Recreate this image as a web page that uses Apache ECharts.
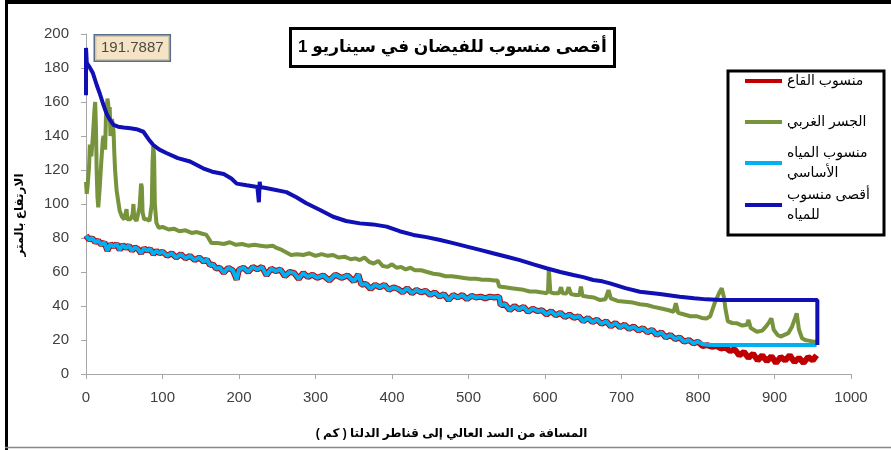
<!DOCTYPE html>
<html>
<head>
<meta charset="utf-8">
<script src="https://cdn.jsdelivr.net/npm/echarts/dist/echarts.min.js"></script>
<style>
html, body { margin: 0; padding: 0; background: #fff; overflow: hidden; }
#main { width: 891px; height: 450px; }
</style>
</head>
<body>
<div id="main" dir="rtl"></div>
<script>
// series names (legend order)
var seriesNames = ["منسوب القاع", "الجسر الغربي", "منسوب المياه الأساسي", "أقصى منسوب للمياه"];
var legendText = ["منسوب القاع", "الجسر الغربي", "منسوب المياه\nالأساسي", "أقصى منسوب\nللمياه"];

// [km, level m]
var bedLevel = [
  [0,81.5],[4,79],[8,80],[12,77.5],[16,78.5],[20,76],[24,77.5],[28,72.5],[32,76.5],[36,75],[40,76.5],[44,73],
  [48,76],[52,74],[56,75.5],[60,72.5],[64,74.5],[68,73.5],[72,71],[76,74],[80,72.5],[84,73.5],[88,70.5],[92,72.5],
  [96,71],[100,72],[106,69.5],[112,71],[118,68.5],[124,70.5],[130,68],[136,69.5],[142,67],[148,68.5],[154,66],
  [158,67.5],[162,64],[166,64.5],[170,62],[175,62.5],[180,59.5],[186,62.5],[192,61],[197,55.5],[200,61.5],
  [206,62.5],[212,60],[218,63],[224,61.5],[230,63],[236,58],[242,62],[248,60.5],[254,61.5],[260,57.5],[266,60],
  [272,59.5],[278,56],[284,59.5],[290,57],[296,58.5],[302,56.5],[310,58],[318,55],[326,58.5],[334,56.5],[342,58],
  [350,54.5],[356,58.5],[360,52.5],[366,53],[372,50],[378,52.5],[384,51],[390,52.5],[396,49.5],[402,51],[408,50],
  [414,48],[420,50.5],[426,47.5],[432,49.5],[438,48],[444,49],[450,46.5],[456,48],[462,45.5],[468,47],[474,43.5],
  [480,46.5],[486,45],[492,46.5],[498,44],[504,46],[510,45],[516,45.5],[522,44.5],[528,45.5],[534,45],[540,45.5],
  [542,40.5],[548,41],[554,37.5],[560,40],[566,38],[572,39.5],[578,36.5],[584,38.5],[590,37],[596,37.5],[602,35],
  [608,37],[614,34.5],[620,36],[626,33.5],[632,35],[638,33],[644,34],[650,31],[656,33],[662,30.5],[668,32],
  [674,29.5],[680,31],[686,28],[692,30],[698,27.5],[704,29],[710,26.5],[716,28],[722,25.5],[728,27],[734,24.5],
  [740,26],[746,23],[752,24.5],[758,21.5],[764,23],[770,20.5],[776,21.5],[782,19],[788,20],[794,18],[800,19],
  [806,16.5],[812,17],[818,16],[824,16.5],[830,15],[836,15.5],[842,13.5],[848,14.5],[854,11],[860,13],[866,9.5],
  [872,12],[878,8],[884,11],[890,7.5],[896,10.5],[902,6.5],[908,10],[914,8],[920,11],[926,7],[932,9.5],[938,6.5],
  [944,10],[950,8],[955,11]
];

var westBank = [
  [0,113],[1,106],[2,110],[4,122],[5,135],[7,128],[9,140],[11,155],[12,160],[13,145],[14,118],[15,104],[16,98],
  [18,110],[20,125],[22,138],[23,140],[25,132],[26,150],[28,162],[29,159],[30,150],[31,157],[32,140],[34,150],
  [36,143],[37,130],[38,120],[40,108],[42,102],[44,96],[47,92.5],[50,91],[52,95],[53,97],[54,91],[56,90],[58,91],
  [61,94],[62,100],[63,92],[66,90],[68,91],[70,98],[72,112],[73,110],[74,95],[76,91],[80,91],[83,90],[86,100],
  [87,125],[88,134],[89,128],[90,100],[92,89],[95,86],[100,86.5],[108,85],[115,85.5],[122,84],[130,84.5],[138,83],
  [145,83.5],[152,82.5],[157,82],[160,80],[164,77],[172,77],[180,76.5],[188,77.5],[196,76],[204,76.5],[212,75.5],
  [220,76],[228,75.5],[236,75],[244,75.5],[250,74],[256,73],[262,71.5],[268,70],[276,70.5],[284,70],[292,71],
  [300,69.5],[308,70.5],[316,69.5],[323,70],[330,68.5],[338,69],[346,67.5],[352,68],[358,67],[364,68.5],[370,66],
  [376,65],[382,66.5],[388,63.5],[394,63],[400,64.5],[406,62.5],[412,63],[418,61.5],[424,62.5],[430,61],[438,61],
  [446,60],[454,59],[462,58.5],[470,57.5],[478,57.5],[486,57],[494,56.5],[502,56],[510,56],[518,55.5],[526,55.5],
  [534,55],[538,55],[540,51.5],[548,51],[556,50.5],[564,50],[572,49.5],[580,48.5],[588,48.5],[596,48],[602,47.5],
  [604,49],[605,62],[606,63],[607,48],[612,47.5],[618,47.5],[621,51],[623,47.5],[628,47.4],[631,51],[634,47],
  [640,46.5],[645,46.5],[647,51.4],[649,46],[656,45.5],[664,45],[672,43.5],[679,44],[683,49.4],[686,44.5],
  [695,43],[705,42.5],[715,42],[724,41],[733,40.6],[742,39.5],[752,38.5],[762,37.5],[768,36.5],[771,41.6],
  [774,36],[782,35],[790,34],[798,34],[805,33],[811,32.7],[816,34],[819,38],[822,42],[825,45],[828,48],[831,50.4],
  [834,45],[836,38],[839,31],[845,30],[851,29.8],[858,28.5],[864,29],[866,31.8],[869,27],[877,24.9],[884,25.5],
  [889,28],[893,30.5],[896,32.7],[899,26],[904,23],[908,22],[913,23],[918,24],[923,28],[927,33],[929,35.7],
  [932,26],[936,21],[940,20],[946,19.5],[951,19],[955,19]
];

var baseWater = [
  [0,81.5],[4,79],[8,80],[12,77.5],[16,78.5],[20,76],[24,77.5],[28,72.5],[32,76.5],[36,75],[40,76.5],[44,73],
  [48,76],[52,74],[56,75.5],[60,72.5],[64,74.5],[68,73.5],[72,71],[76,74],[80,72.5],[84,73.5],[88,70.5],[92,72.5],
  [96,71],[100,72],[106,69.5],[112,71],[118,68.5],[124,70.5],[130,68],[136,69.5],[142,67],[148,68.5],[154,66],
  [158,67.5],[162,64],[166,64.5],[170,62],[175,62.5],[180,59.5],[186,62.5],[192,61],[197,55.5],[200,61.5],
  [206,62.5],[212,60],[218,63],[224,61.5],[230,63],[236,58],[242,62],[248,60.5],[254,61.5],[260,57.5],[266,60],
  [272,59.5],[278,56],[284,59.5],[290,57],[296,58.5],[302,56.5],[310,58],[318,55],[326,58.5],[334,56.5],[342,58],
  [350,54.5],[356,58.5],[360,52.5],[366,53],[372,50],[378,52.5],[384,51],[390,52.5],[396,49.5],[402,51],[408,50],
  [414,48],[420,50.5],[426,47.5],[432,49.5],[438,48],[444,49],[450,46.5],[456,48],[462,45.5],[468,47],[474,43.5],
  [480,46.5],[486,45],[492,46.5],[498,44],[504,46],[510,45],[516,45.5],[522,44.5],[528,45.5],[534,45],[540,45.5],
  [542,40.5],[548,41],[554,37.5],[560,40],[566,38],[572,39.5],[578,36.5],[584,38.5],[590,37],[596,37.5],[602,35],
  [608,37],[614,34.5],[620,36],[626,33.5],[632,35],[638,33],[644,34],[650,31],[656,33],[662,30.5],[668,32],
  [674,29.5],[680,31],[686,28],[692,30],[698,27.5],[704,29],[710,26.5],[716,28],[722,25.5],[728,27],[734,24.5],
  [740,26],[746,23],[752,24.5],[758,21.5],[764,23],[770,20.5],[776,21.5],[782,19],[788,20],[794,18],[800,19],
  [806,17.5],[812,17.2],[820,17],[955,17]
];

var maxFlood = [
  [0,164],[0,191.7887],[1,183],[4,181],[9,177],[14,170],[18,165],[23,158],[27,153],[32,149],[36,146.5],[42,145.5],
  [49,145],[58,144.5],[66,144],[75,142.5],[82,138],[88,134.7],[96,132],[105,130],[120,127],[136,125],[153,121],
  [165,119],[180,117.6],[190,115],[197,112],[210,111],[224,110],[226,101],[227,113],[228,110],[240,109],[262,107],
  [275,104],[288,100.4],[306,96.5],[323,92.5],[340,90],[358,88.6],[375,88],[393,86.7],[410,84],[428,81.8],
  [445,80.5],[463,78.8],[480,77],[498,74.9],[515,73],[532,71],[550,69],[567,67],[585,64.5],[602,62.2],[620,60],
  [637,58.2],[650,57],[663,55.3],[675,54.5],[685,53.3],[705,50.5],[724,48.4],[750,47],[776,45.5],[795,44.5],
  [811,43.9],[830,43.6],[900,43.5],[956,43.5],[956,17]
];
var peakPoint = [[0, 191.7887]];

var font = "'Liberation Sans', 'DejaVu Sans', Arial, sans-serif";
var colors = ["#c00000", "#77933c", "#00b0f0", "#1010b4"];

var myChart = echarts.init(document.getElementById("main"));

function legendAt(i, top) {
  return {
    data: [seriesNames[i]],
    left: 745,
    top: top,
    padding: 0,
    orient: "vertical",
    selectedMode: false,
    icon: "rect",
    itemWidth: 37,
    itemHeight: 4,
    itemGap: 0,
    formatter: legendText[i],
    textStyle: {
      fontSize: 14,
      color: "#000",
      fontFamily: font,
      lineHeight: 20,
      padding: legendText[i].indexOf("\n") > -1 ? [20, 0, 0, 0] : 0
    }
  };
}

var option = {
  animation: false,
  backgroundColor: "#fff",
  title: {
    text: "أقصى منسوب للفيضان في سيناريو 1",
    left: 290,
    top: 28,
    borderColor: "#000",
    borderWidth: 3,
    padding: [11, 8, 11, 8],
    textStyle: { fontSize: 17, fontWeight: "bold", color: "#000", fontFamily: font }
  },
  legend: [legendAt(0, 71), legendAt(1, 112), legendAt(2, 133), legendAt(3, 175)],
  grid: { left: 86, right: 40, top: 34, bottom: 76, outerBoundsMode: "none" },
  xAxis: {
    type: "value",
    min: 0,
    max: 1000,
    interval: 100,
    name: "المسافة من السد العالي إلى قناطر الدلتا ( كم )",
    nameLocation: "middle",
    nameGap: 54,
    nameTextStyle: { fontWeight: "bold", fontSize: 12, color: "#000", fontFamily: font, padding: [0, 34, 0, 0] },
    axisLine: { show: true, lineStyle: { color: "#a6a6a6" } },
    axisTick: { show: true, length: 5, lineStyle: { color: "#a6a6a6" } },
    axisLabel: {
      fontSize: 15, color: "#404040", margin: 16, fontFamily: font,
      formatter: function (v) { return String(v); }
    },
    splitLine: { show: false }
  },
  yAxis: {
    type: "value",
    min: 0,
    max: 200,
    interval: 20,
    name: "الارتفاع بالمتر",
    nameLocation: "middle",
    nameRotate: 90,
    nameGap: 60,
    nameTextStyle: { fontWeight: "bold", fontSize: 12, color: "#000", fontFamily: font, padding: [0, 22, 0, 0] },
    axisLine: { show: true, lineStyle: { color: "#a6a6a6" } },
    axisTick: { show: true, length: 5, lineStyle: { color: "#a6a6a6" } },
    axisLabel: {
      fontSize: 15, color: "#404040", margin: 17, fontFamily: font,
      formatter: function (v) { return String(v); }
    },
    splitLine: { show: false }
  },
  graphic: [
    { type: "rect", shape: { x: 5, y: 0, width: 886, height: 4 }, style: { fill: "#000" } },
    { type: "rect", shape: { x: 5, y: 0, width: 3, height: 450 }, style: { fill: "#000" } },
    { type: "line", shape: { x1: 5, y1: 447.5, x2: 891, y2: 447.5 }, style: { stroke: "#888", lineWidth: 1.5 } },
    { type: "rect", shape: { x: 728, y: 71, width: 156, height: 164 }, style: { fill: "rgba(0,0,0,0)", stroke: "#000", lineWidth: 3 } }
  ],
  series: [
    {
      name: seriesNames[0], type: "line", data: bedLevel, showSymbol: false,
      lineStyle: { color: colors[0], width: 6 }, itemStyle: { color: colors[0] }
    },
    {
      name: seriesNames[1], type: "line", data: westBank, showSymbol: false,
      lineStyle: { color: colors[1], width: 4 }, itemStyle: { color: colors[1] }
    },
    {
      name: seriesNames[2], type: "line", data: baseWater, showSymbol: false,
      lineStyle: { color: colors[2], width: 4 }, itemStyle: { color: colors[2] }
    },
    {
      name: seriesNames[3], type: "line", data: maxFlood, showSymbol: false,
      lineStyle: { color: colors[3], width: 4 }, itemStyle: { color: colors[3] }
    },
    {
      type: "scatter", data: peakPoint, symbolSize: 0, silent: true,
      label: {
        show: true, position: "right", distance: 9,
        formatter: function (p) { return p.value[1].toFixed(4); },
        backgroundColor: "#f3dcb6", borderColor: "#2e4a6a", borderWidth: 1.5,
        padding: [6, 6, 4, 6], fontSize: 15, color: "#222", fontFamily: font
      }
    }
  ]
};

myChart.setOption(option);
</script>
</body>
</html>
